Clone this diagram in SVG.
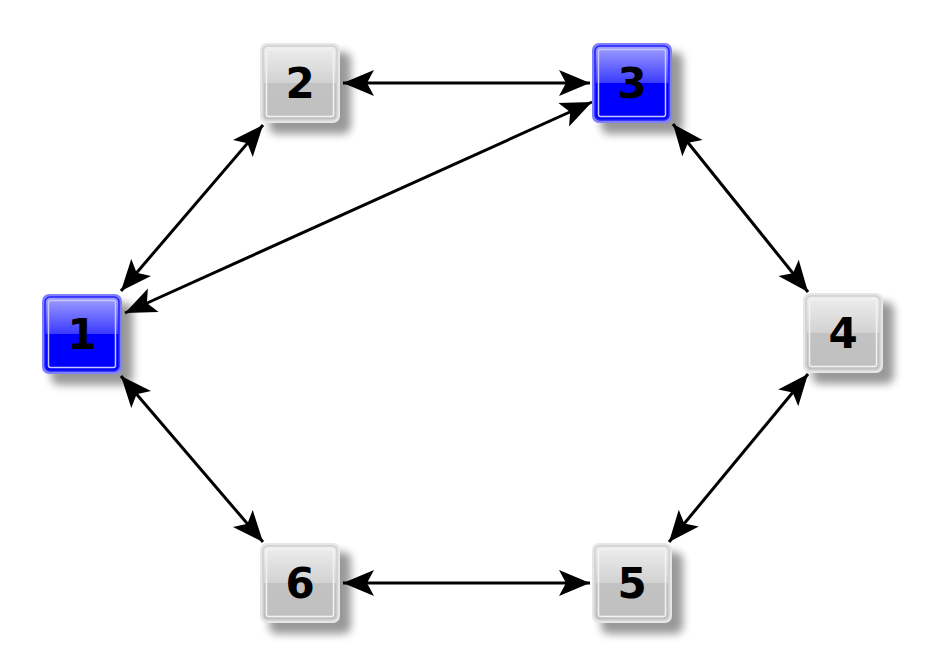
<svg xmlns="http://www.w3.org/2000/svg" width="928" height="667" viewBox="0 0 928 667">
<defs>
<style>
.lbl{font-family:"DejaVu Sans",sans-serif;font-weight:bold;font-size:42px;text-anchor:middle;fill:#000}
.edge{stroke:#000;stroke-width:3;fill:none;marker-start:url(#ah);marker-end:url(#ah)}
.shadow{fill:#000;opacity:0.4;filter:url(#blur)}
</style>
<filter id="blur" x="-30%" y="-30%" width="160%" height="160%"><feGaussianBlur stdDeviation="4.5"/></filter>
<linearGradient id="gb" x1="0" y1="0" x2="0" y2="1">
<stop offset="0" stop-color="#a0a0ff"/><stop offset="0.5" stop-color="#3a3aff"/><stop offset="0.5" stop-color="#0000ff"/><stop offset="1" stop-color="#0000ff"/>
</linearGradient>
<linearGradient id="gg" x1="0" y1="0" x2="0" y2="1">
<stop offset="0" stop-color="#eeeeee"/><stop offset="0.5" stop-color="#d2d2d2"/><stop offset="0.5" stop-color="#c2c2c2"/><stop offset="1" stop-color="#c0c0c0"/>
</linearGradient>
<marker id="ah" viewBox="-33 -15 35 30" refX="0" refY="0" markerWidth="35" markerHeight="30" markerUnits="userSpaceOnUse" orient="auto-start-reverse">
<path d="M0,0 L-31,-13 L-24,0 L-31,13 Z" fill="#000"/>
</marker>
<g id="boxB">
<rect x="-31" y="-31" width="82" height="82" rx="8" class="shadow"/>
<rect x="-40" y="-40" width="80" height="80" rx="7" fill="#8080ff"/>
<rect x="-37" y="-37" width="74" height="74" rx="5" fill="url(#gb)" stroke="#2020ff" stroke-width="1.5"/>
<rect x="-33.5" y="-33.5" width="67" height="67" rx="2" fill="none" stroke="#c8c8ff" stroke-width="1.5"/>
</g>
<g id="boxG">
<rect x="-31" y="-31" width="82" height="82" rx="8" class="shadow"/>
<rect x="-40" y="-40" width="80" height="80" rx="7" fill="#e6e6e6"/>
<rect x="-37" y="-37" width="74" height="74" rx="5" fill="url(#gg)" stroke="#cfcfcf" stroke-width="1.5"/>
<rect x="-33.5" y="-33.5" width="67" height="67" rx="2" fill="none" stroke="#f2f2f2" stroke-width="1.5"/>
</g>
</defs>
<rect width="928" height="667" fill="#fff"/>
<g id="edges">
<line class="edge" x1="343" y1="83" x2="590" y2="83"/>
<line class="edge" x1="121" y1="291" x2="263" y2="125"/>
<line class="edge" x1="125" y1="313" x2="592" y2="102"/>
<line class="edge" x1="673" y1="124" x2="808" y2="292"/>
<line class="edge" x1="808" y1="374" x2="669" y2="542"/>
<line class="edge" x1="121" y1="376" x2="263" y2="542"/>
<line class="edge" x1="343" y1="583" x2="590" y2="583"/>
</g>
<g id="node1" transform="translate(82,334)"><use href="#boxB"/><text class="lbl" y="15">1</text></g>
<g id="node2" transform="translate(300,83)"><use href="#boxG"/><text class="lbl" y="15">2</text></g>
<g id="node3" transform="translate(632,83)"><use href="#boxB"/><text class="lbl" y="15">3</text></g>
<g id="node4" transform="translate(843,333)"><use href="#boxG"/><text class="lbl" y="15">4</text></g>
<g id="node5" transform="translate(632,583)"><use href="#boxG"/><text class="lbl" y="15">5</text></g>
<g id="node6" transform="translate(300,583)"><use href="#boxG"/><text class="lbl" y="15">6</text></g>
</svg>
